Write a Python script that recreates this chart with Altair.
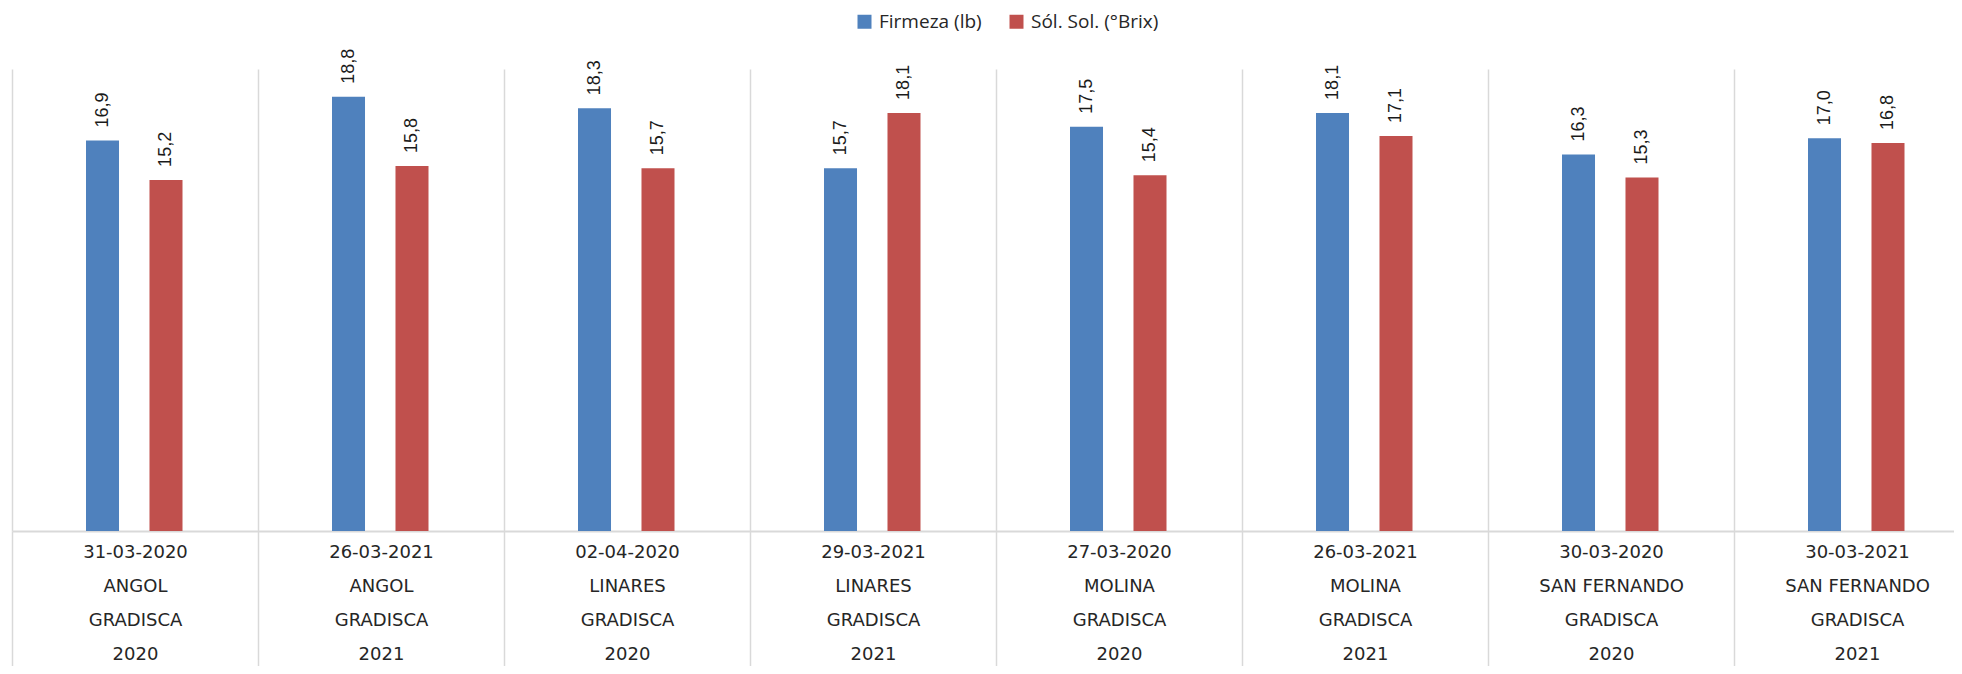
import altair as alt
import pandas as pd

fechas = ["31-03-2020", "26-03-2021", "02-04-2020", "29-03-2021",
          "27-03-2020", "26-03-2021", "30-03-2020", "30-03-2021"]
localidades = ["ANGOL", "ANGOL", "LINARES", "LINARES",
               "MOLINA", "MOLINA", "SAN FERNANDO", "SAN FERNANDO"]
variedades = ["GRADISCA"] * 8
temporadas = ["2020", "2021", "2020", "2021", "2020", "2021", "2020", "2021"]
firmeza = [16.9, 18.8, 18.3, 15.7, 17.5, 18.1, 16.3, 17.0]
solidos = [15.2, 15.8, 15.7, 18.1, 15.4, 17.1, 15.3, 16.8]
series = ["Firmeza (lb)", "Sól. Sol. (°Brix)"]
colores = ["#4F81BD", "#C0504D"]

cats = [f"{f}|{l}|{v}|{t}" for f, l, v, t in zip(fechas, localidades, variedades, temporadas)]
rows = []
for c, a, b in zip(cats, firmeza, solidos):
    rows.append({"cat": c, "serie": series[0], "valor": a})
    rows.append({"cat": c, "serie": series[1], "valor": b})
df = pd.DataFrame(rows)
df["etiqueta"] = df["valor"].map(lambda v: f"{v:.1f}".replace(".", ","))

x = alt.X(
    "cat:N", sort=cats, title=None,
    scale=alt.Scale(paddingInner=0, paddingOuter=0, range=[0, 1968]),
    axis=alt.Axis(
        labelExpr="split(datum.label, '|')", labelAngle=0,
        labelFont="DejaVu Sans", labelFontSize=18, labelColor="#262626",
        labelLineHeight=34, labelBaseline="top", labelPadding=-138,
        labelLimit=400,
        tickBand="extent", ticks=True, tickSize=150, tickColor="#d9d9d9", tickWidth=1.5,
        grid=True, gridColor="#d9d9d9", gridWidth=1.5,
        domainColor="#d9d9d9", domainWidth=2,
    ),
)
xo = alt.XOffset("serie:N", sort=series,
                 scale=alt.Scale(range=[74, 170.5], paddingInner=0.48, paddingOuter=0))
y = alt.Y("valor:Q", scale=alt.Scale(domain=[0, 20]), axis=None)

base = alt.Chart(df)
bars = base.mark_bar().encode(
    x=x, xOffset=xo, y=y,
    color=alt.Color(
        "serie:N",
        scale=alt.Scale(domain=series, range=colores),
        legend=alt.Legend(
            title=None, orient="none", legendX=843, legendY=-57,
            direction="horizontal", symbolType="square", symbolSize=196,
            symbolStrokeWidth=0, labelFont="Open Sans", labelFontSize=19,
            labelColor="#262626", columnPadding=25, labelOffset=5, padding=0,
        ),
    ),
)
labels = base.mark_text(
    angle=270, align="left", baseline="middle", dx=13,
    font="Liberation Sans", fontSize=18, color="#1a1a1a",
).encode(x=x, xOffset=xo, y=y, text="etiqueta:N")

chart = (bars + labels).properties(
    width=1942, height=462,
    padding={"left": 4, "top": 61, "right": 0, "bottom": 135},
    autosize=alt.AutoSizeParams(type="none"),
    background="white",
).configure_view(strokeWidth=0)

chart.save("out.html", embed_options={"renderer": "svg", "actions": False})
